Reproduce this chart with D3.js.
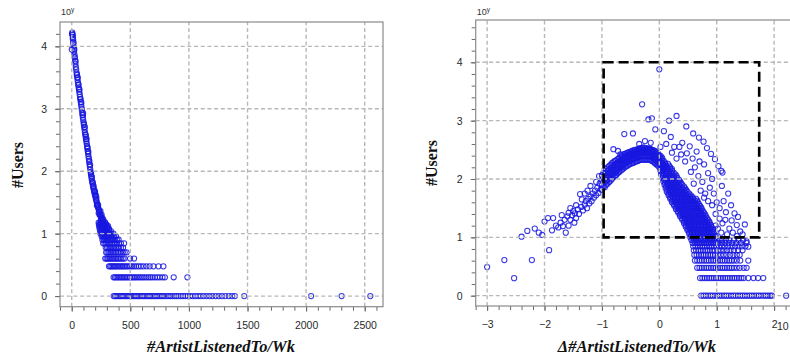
<!DOCTYPE html>
<html><head><meta charset="utf-8">
<script src="https://cdn.jsdelivr.net/npm/d3@7/dist/d3.min.js"></script>
<style>
body{margin:0;background:#fff;}
svg{display:block;}
</style></head><body>
<svg id="c" width="790" height="361"></svg>
<script>
// ---------- DATA ----------
const yTickLabels = [0, 1, 2, 3, 4];
const leftXTickLabels = [0, 500, 1000, 1500, 2000, 2500];
const rightXTickLabels = [-3, -2, -1, 0, 1, 2];
const leftXLabel = "#ArtistListenedTo/Wk";
const rightXLabel = "\u0394#ArtistListenedTo/Wk";
const yLabel = "#Users";

// left: main curve [#artists, log10 users]
const leftCurve = [[1,3.95],[3,4.2],[5,4.22],[6,4.19],[8,4.18],[10,4.15],[12,4.1],[14,4.05],[16,4.0],[18,3.96],[20,3.92],[23,3.87],[26,3.82],[29,3.77],[32,3.72],[35,3.67],[38,3.63],[41,3.58],[44,3.54],[47,3.5],[50,3.46],[53,3.42],[56,3.38],[59,3.34],[62,3.31],[65,3.27],[68,3.23],[71,3.19],[74,3.15],[77,3.11],[80,3.07],[83,3.03],[86,2.99],[89,2.94],[92,2.9],[95,2.86],[98,2.82],[101,2.78],[104,2.74],[107,2.7],[110,2.66],[113,2.62],[116,2.59],[119,2.55],[122,2.51],[125,2.48],[128,2.44],[131,2.4],[134,2.36],[137,2.32],[140,2.28],[143,2.24],[146,2.2],[149,2.15],[152,2.11],[155,2.07],[158,2.03],[161,1.99],[164,1.95],[167,1.92],[170,1.88],[173,1.85],[176,1.82],[179,1.79],[182,1.76],[185,1.73],[188,1.71],[191,1.68],[194,1.66],[197,1.63],[200,1.61],[203,1.59],[206,1.56],[209,1.54],[212,1.52],[215,1.49],[218,1.47],[221,1.45],[224,1.43],[227,1.41],[230,1.39],[233,1.37],[236,1.35],[239,1.33],[242,1.31],[245,1.3],[248,1.28],[251,1.26],[254,1.24],[257,1.22],[260,1.21],[264,1.19],[268,1.17],[272,1.15],[276,1.13],[280,1.11],
[15,4.06],[25,3.83],[45,3.55],[58,3.39],[75,3.16],[95,2.9],[105,2.76],[120,2.58],[135,2.38],[150,2.17],[165,1.97],[180,1.82],[195,1.69],[205,1.62],[215,1.45],[225,1.46],[238,1.30],[245,1.36],[250,1.22],[262,1.25],[270,1.22],[285,1.18],[290,1.14],[300,1.1],[310,1.12],[318,1.07],[295,1.05],[305,1.03],[230,1.33],[255,1.30],[275,1.08],[262,1.12],[250,1.17],
[9,4.12],[22,3.95],[33,3.76],[52,3.5],[66,3.31],[82,3.1],[97,2.93],[112,2.71],[127,2.52],[142,2.31],[157,2.1],[172,1.91],[187,1.76],[199,1.67],[210,1.58]];

// left: rows of small user counts (log10 n) and their x values
const leftRowY = [0, 0.301, 0.477, 0.602, 0.699, 0.778, 0.845, 0.903, 0.954, 1.0, 1.041, 1.079, 1.114, 1.146, 1.176];
const leftRowX = [
[358,370,382,395,408,420,433,445,458,470,483,496,508,520,533,546,560,572,585,600,612,626,640,655,668,682,697,712,727,742,757,772,788,805,822,840,857,875,893,910,930,950,970,990,1010,1032,1055,1078,1100,1125,1150,1175,1200,1228,1255,1282,1310,1340,1368,1392,1472,2042,2303,2548],
[357,368,380,392,405,418,430,443,456,470,483,497,512,526,541,556,572,588,604,620,637,655,672,690,710,730,752,775,795,870,987],
[318,328,339,350,361,372,383,395,407,419,431,443,456,470,485,500,515,532,550,570,590,612,638,665,697,740,782],
[286,297,308,320,331,343,355,367,380,393,406,420,435,450,498,532],
[294,305,316,328,340,352,365,378,392,406,420,436,452,468],
[290,302,314,326,338,350,363,376,390,404,420,438],
[268,280,292,304,316,329,342,356,370,386,402,420,447],
[262,274,286,298,311,324,338,352,368,385,400],
[256,268,280,292,305,318,332,347,362,378],
[246,258,270,283,296,310,325,340,356],
[242,254,266,279,292,306,320,334],
[238,250,262,275,288,302,316],
[235,247,259,272,286,300],
[232,244,256,269,283,297],
[230,242,254,267,281]
];

// right: sparse rising tail
const rightTail = [[-3.0,0.49],[-2.70,0.61],[-2.53,0.30],[-2.22,0.61],[-1.92,0.78],[-2.40,1.01],[-2.30,1.11],[-2.17,1.15],[-2.10,1.08],[-2.04,1.04],[-2.00,1.27],[-1.94,1.33],[-1.85,1.33],[-1.87,1.12],[-1.80,1.20],[-1.76,1.17],[-1.72,1.25],[-1.68,1.19],[-1.63,1.08],[-1.65,1.30],[-1.60,1.36],[-1.58,1.42],[-1.55,1.30],[-1.52,1.38],[-1.50,1.45],[-1.47,1.41],[-1.45,1.33],[-1.42,1.48],[-1.40,1.40],[-1.38,1.74],[-1.36,1.52],[-1.33,1.46],[-1.30,1.56],[-1.28,1.62],[-1.26,1.50],[-1.24,1.66],[-1.22,1.58],[-1.20,1.70],[-1.18,1.62],[-1.16,1.75],[-1.14,1.68],[-1.12,1.80],[-1.10,1.72],[-1.08,1.85],[-1.06,1.76],[-1.04,1.92],[-1.02,1.82],[-1.30,1.75],[-1.25,1.80],[-1.35,1.65],[-1.10,1.95],[-1.05,2.05],[-1.20,1.88],[-1.45,1.55],[-1.55,1.50],[-1.70,1.38],[-1.58,1.20],[-1.48,1.25]];

// right: dense arch, by column
const archX = [-1.00,-0.975,-0.95,-0.925,-0.90,-0.875,-0.85,-0.825,-0.80,-0.775,-0.75,-0.725,-0.70,-0.675,-0.65,-0.625,-0.60,-0.575,-0.55,-0.525,-0.50,-0.475,-0.45,-0.425,-0.40,-0.375,-0.35,-0.325,-0.30,-0.275,-0.25,-0.225,-0.20,-0.175,-0.15,-0.125,-0.10,-0.075,-0.05,-0.025,0.00,0.025,0.05,0.075,0.10];
const archY = [
[1.82,1.90,1.98,2.06],
[1.86,1.94,2.02,2.10],
[1.86,1.94,2.02,2.10],
[1.90,1.97,2.04,2.11,2.17],
[1.92,1.99,2.06,2.14,2.20],
[1.95,2.02,2.09,2.16,2.22],
[1.97,2.04,2.11,2.18,2.24],
[2.00,2.07,2.13,2.20,2.27],
[2.03,2.09,2.15,2.22,2.29],
[2.05,2.11,2.17,2.24,2.31],
[2.07,2.13,2.19,2.26,2.32],
[2.10,2.16,2.22,2.28,2.34],
[2.12,2.18,2.24,2.30,2.36],
[2.14,2.20,2.26,2.32,2.38],
[2.16,2.22,2.28,2.34,2.40],
[2.18,2.24,2.30,2.36,2.42],
[2.20,2.26,2.32,2.38,2.43],
[2.22,2.28,2.34,2.40,2.44],
[2.23,2.29,2.35,2.41,2.45],
[2.25,2.31,2.37,2.42,2.46],
[2.26,2.32,2.38,2.43,2.47],
[2.27,2.33,2.39,2.44,2.48],
[2.28,2.34,2.40,2.45,2.49],
[2.29,2.35,2.41,2.46,2.50],
[2.30,2.36,2.42,2.47,2.50],
[2.31,2.37,2.43,2.48,2.51],
[2.32,2.38,2.44,2.49,2.52],
[2.33,2.39,2.45,2.50,2.53],
[2.33,2.39,2.45,2.50,2.53],
[2.33,2.39,2.45,2.50,2.54],
[2.33,2.39,2.45,2.50,2.53],
[2.33,2.39,2.45,2.50,2.53],
[2.33,2.39,2.45,2.50,2.52],
[2.33,2.39,2.45,2.50,2.52],
[2.32,2.38,2.44,2.49,2.51],
[2.31,2.37,2.43,2.48,2.50],
[2.29,2.35,2.41,2.46,2.49],
[2.27,2.33,2.39,2.44,2.48],
[2.25,2.31,2.37,2.42,2.46],
[2.23,2.29,2.35,2.40,2.44],
[2.20,2.26,2.32,2.37,2.41],
[2.18,2.24,2.30,2.35,2.39],
[2.15,2.21,2.27,2.32,2.36],
[2.19,2.25,2.31],
[2.22,2.28]
];

// right: dense descending region, by row
const descY = [2.26,2.23,2.20,2.17,2.14,2.11,2.08,2.05,2.02,1.99,1.96,1.93,1.90,1.87,1.84,1.81,1.78,1.75,1.72,1.69,1.66,1.63,1.60,1.57,1.54,1.51,1.48,1.45,1.42,1.39,1.36,1.33,1.30,1.27,1.24,1.21,1.18,1.15,1.12,1.09,1.06,1.03,1.00];
const descX = [
[0.05,0.10,0.15],
[0.07,0.12,0.17],
[0.04,0.09,0.14,0.19],
[0.04,0.09,0.14,0.19,0.22],
[0.02,0.07,0.12,0.17,0.22],
[0.05,0.10,0.15,0.20,0.25],
[0.03,0.08,0.13,0.18,0.23,0.28],
[0.06,0.11,0.16,0.21,0.26,0.30],
[0.05,0.10,0.15,0.20,0.25,0.31],
[0.08,0.13,0.18,0.23,0.28,0.34],
[0.07,0.12,0.17,0.22,0.27,0.32,0.36],
[0.10,0.15,0.20,0.25,0.30,0.35,0.38],
[0.09,0.14,0.19,0.24,0.29,0.34,0.40],
[0.12,0.17,0.22,0.27,0.32,0.37,0.43],
[0.11,0.16,0.21,0.26,0.31,0.36,0.41,0.45],
[0.14,0.19,0.24,0.29,0.34,0.39,0.44,0.47],
[0.13,0.18,0.23,0.28,0.33,0.38,0.43,0.49],
[0.16,0.21,0.26,0.31,0.36,0.41,0.46,0.52],
[0.16,0.21,0.26,0.31,0.36,0.41,0.46,0.51,0.55],
[0.19,0.24,0.29,0.34,0.39,0.44,0.49,0.54,0.58],
[0.19,0.24,0.29,0.34,0.39,0.44,0.49,0.54,0.59,0.64],
[0.22,0.27,0.32,0.37,0.42,0.47,0.52,0.57,0.62,0.66],
[0.22,0.27,0.32,0.37,0.42,0.47,0.52,0.57,0.62,0.67],
[0.25,0.30,0.35,0.40,0.45,0.50,0.55,0.60,0.65,0.69],
[0.26,0.31,0.36,0.41,0.46,0.51,0.56,0.61,0.66,0.71],
[0.29,0.34,0.39,0.44,0.49,0.54,0.59,0.64,0.69,0.73],
[0.29,0.34,0.39,0.44,0.49,0.54,0.59,0.64,0.69,0.74],
[0.32,0.37,0.42,0.47,0.52,0.57,0.62,0.67,0.72,0.76],
[0.33,0.38,0.43,0.48,0.53,0.58,0.63,0.68,0.73,0.78],
[0.36,0.41,0.46,0.51,0.56,0.61,0.66,0.71,0.76,0.80],
[0.36,0.41,0.46,0.51,0.56,0.61,0.66,0.71,0.76,0.81],
[0.39,0.44,0.49,0.54,0.59,0.64,0.69,0.74,0.79,0.83],
[0.40,0.45,0.50,0.55,0.60,0.65,0.70,0.75,0.80,0.85],
[0.43,0.48,0.53,0.58,0.63,0.68,0.73,0.78,0.83,0.87],
[0.43,0.48,0.53,0.58,0.63,0.68,0.73,0.78,0.83,0.88],
[0.46,0.51,0.56,0.61,0.66,0.71,0.76,0.81,0.86,0.90],
[0.46,0.51,0.56,0.61,0.66,0.71,0.76,0.81,0.86,0.91],
[0.49,0.54,0.59,0.64,0.69,0.74,0.79,0.84,0.89,0.93],
[0.49,0.54,0.59,0.64,0.69,0.74,0.79,0.84,0.89,0.94],
[0.52,0.57,0.62,0.67,0.72,0.77,0.82,0.87,0.92,0.95],
[0.52,0.57,0.62,0.67,0.72,0.77,0.82,0.87,0.92,0.96],
[0.55,0.60,0.65,0.70,0.75,0.80,0.85,0.90,0.95,0.98],
[0.54,0.59,0.64,0.69,0.74,0.79,0.84,0.89,0.94,0.98]
];

// right: rows of small user counts (log10 n)
const rightRowY = [0, 0.301, 0.477, 0.602, 0.699, 0.778, 0.845, 0.903, 0.954];
const rightRowX = [
[0.73,0.77,0.81,0.85,0.89,0.93,0.97,1.01,1.05,1.09,1.13,1.17,1.21,1.25,1.29,1.33,1.37,1.41,1.45,1.49,1.53,1.57,1.61,1.65,1.69,1.73,1.77,1.81,1.85,1.89,1.93,1.96,2.21],
[0.71,0.75,0.79,0.83,0.87,0.91,0.95,0.99,1.03,1.07,1.11,1.15,1.19,1.23,1.27,1.31,1.35,1.39,1.43,1.47,1.55,1.64,1.72,1.81],
[0.66,0.70,0.74,0.78,0.82,0.86,0.90,0.94,0.98,1.02,1.06,1.10,1.14,1.18,1.22,1.26,1.30,1.35,1.40,1.47,1.52],
[0.62,0.66,0.70,0.74,0.78,0.82,0.86,0.90,0.94,0.98,1.02,1.06,1.10,1.14,1.18,1.22,1.26,1.30,1.35,1.41,1.55],
[0.61,0.65,0.69,0.73,0.77,0.81,0.85,0.89,0.93,0.97,1.02,1.07,1.12,1.17,1.23,1.29,1.35,1.40],
[0.60,0.64,0.68,0.72,0.76,0.80,0.84,0.88,0.92,0.96,1.02,1.07,1.12,1.18,1.24,1.30,1.37,1.45],
[0.59,0.63,0.67,0.71,0.75,0.79,0.83,0.87,0.91,0.95,0.99,1.04,1.09,1.14,1.20,1.26,1.32,1.38,1.44,1.50],
[0.58,0.62,0.66,0.70,0.74,0.78,0.82,0.86,0.90,0.94,0.98,1.03,1.09,1.15,1.21,1.27,1.34,1.42,1.52],
[0.56,0.60,0.64,0.68,0.72,0.76,0.80,0.84,0.88,0.92,0.96,1.00,1.05,1.10,1.16,1.22,1.30,1.38,1.46]
];

// right: scattered points above / right of the dense region
const rightScatter = [[0.00,3.88],[-0.30,3.28],[-0.19,3.02],[-0.13,3.04],[0.30,3.08],[0.17,3.00],[0.47,2.90],[0.59,2.78],[0.69,2.71],[0.77,2.64],[0.83,2.53],[0.90,2.43],[0.97,2.34],[1.08,2.14],[1.10,2.11],[1.03,2.22],[-0.46,2.78],[-0.61,2.77],[-0.07,2.85],[0.08,2.82],[0.20,2.72],[0.35,2.55],[0.40,2.62],[0.53,2.56],[0.65,2.47],[0.48,2.44],[0.58,2.35],[0.70,2.30],[0.78,2.25],[0.62,2.20],[0.45,2.30],[0.38,2.42],[0.26,2.55],[0.12,2.60],[-0.80,2.51],[-0.72,2.48],[-0.68,2.42],[-0.25,2.65],[-0.15,2.62],[-0.35,2.60],[0.02,2.55],[0.22,2.45],[0.30,2.35],[0.55,2.12],[0.68,2.05],[0.85,2.10],[0.92,2.00],[0.75,1.95],[0.88,1.85],[0.60,1.92],[0.95,1.75],[1.09,1.88],[1.20,1.75],[1.25,1.55],[1.16,1.43],[1.31,1.41],[1.37,1.35],[1.26,1.29],[1.49,1.22],[1.35,1.21],[1.10,1.24],[1.22,1.15],[1.41,1.10],[1.45,1.05],[1.52,0.93],[1.55,0.84],[1.00,1.60],[1.05,1.50],[1.12,1.62],[0.98,1.40],[1.05,1.32],[1.15,1.30],[0.80,1.75],[0.72,1.80],[1.02,1.15],[1.08,1.08],[1.18,1.05],[1.28,1.08],[1.35,1.02],[0.98,1.20],[0.92,1.55],[0.85,1.62],[0.78,1.68]];

// right: highlighted region (dashed box)
const boxX = [-0.97, 1.74];
const boxY = [1, 4];

// ---------- DRAW ----------
const svg = d3.select("#c");
const POINT = "#1818e0";
const GRID = "#b8b8b8";
const FRAME = "#8a8a8a";

function panel(o) {
  const x = d3.scaleLinear().domain(o.xDomain).range(o.xRange);
  const y = d3.scaleLinear().domain(o.yDomain).range(o.yRange);
  const g = svg.append("g");
  const clipId = "clip" + o.id;
  svg.append("clipPath").attr("id", clipId).append("rect")
    .attr("x", o.xRange[0]).attr("y", o.yRange[1])
    .attr("width", o.xRange[1] - o.xRange[0]).attr("height", o.yRange[0] - o.yRange[1]);

  // points
  const pts = g.append("g").attr("clip-path", `url(#${clipId})`);
  pts.selectAll("circle").data(o.points).join("circle")
    .attr("cx", d => x(d[0])).attr("cy", d => y(d[1])).attr("r", 2.6)
    .attr("fill", "none").attr("stroke", POINT).attr("stroke-width", 1.05).attr("stroke-opacity", 0.85);

  // grid (on top of points)
  const grid = g.append("g").attr("stroke", GRID).attr("stroke-width", 1.4).attr("stroke-dasharray", "4,2.7");
  grid.selectAll("line.v").data(o.xTicks).join("line").attr("class", "v")
    .attr("x1", d => x(d)).attr("x2", d => x(d)).attr("y1", o.yRange[0]).attr("y2", o.yRange[1]);
  grid.selectAll("line.h").data(o.yTicks).join("line").attr("class", "h")
    .attr("y1", d => y(d)).attr("y2", d => y(d)).attr("x1", o.xRange[0]).attr("x2", o.xRange[1]);

  // axes
  const styleAxis = sel => {
    sel.select(".domain").remove();
    sel.selectAll(".tick line").attr("stroke", "#6a6a6a");
    sel.selectAll(".tick text").attr("fill", "#2a2a2a")
      .style("font-family", "'Liberation Sans', Arial, sans-serif").style("font-size", "10.5px");
  };
  g.append("g").attr("transform", `translate(0,${o.yRange[0]})`)
    .call(d3.axisBottom(x).tickValues(o.xMinor).tickSize(4).tickFormat("")).call(styleAxis);
  g.append("g").attr("transform", `translate(0,${o.yRange[0]})`)
    .call(d3.axisBottom(x).tickValues(o.xTicks).tickSize(5).tickPadding(10).tickFormat(d3.format("d"))).call(styleAxis);
  g.append("g").attr("transform", `translate(${o.xRange[0]},0)`)
    .call(d3.axisLeft(y).tickValues(o.yMinor).tickSize(4).tickFormat("")).call(styleAxis);
  g.append("g").attr("transform", `translate(${o.xRange[0]},0)`)
    .call(d3.axisLeft(y).tickValues(o.yTicks).tickSize(5).tickPadding(8).tickFormat(d3.format("d"))).call(styleAxis);

  // frame
  g.append("rect").attr("x", o.xRange[0]).attr("y", o.yRange[1])
    .attr("width", o.xRange[1] - o.xRange[0]).attr("height", o.yRange[0] - o.yRange[1])
    .attr("fill", "none").attr("stroke", FRAME).attr("stroke-width", 1.2);

  // 10^y
  const ex = g.append("text").attr("x", o.xRange[0] + 1).attr("y", 15)
    .style("font-family", "'Liberation Sans', Arial, sans-serif").style("font-size", "9px").attr("fill", "#333");
  ex.append("tspan").text("10");
  ex.append("tspan").attr("dy", -3.5).style("font-size", "6.5px").text("y");

  // labels
  g.append("text").attr("transform", `translate(${o.yLabelX},${o.yLabelY}) rotate(-90)`)
    .attr("text-anchor", "middle")
    .style("font-family", "'Liberation Serif', 'Times New Roman', serif").style("font-weight", "bold").style("font-size", "16px")
    .attr("fill", "#111").text(yLabel);
  g.append("text").attr("x", o.xLabelX).attr("y", 352).attr("text-anchor", "middle")
    .style("font-family", "'Liberation Serif', 'Times New Roman', serif").style("font-weight", "bold").style("font-style", "italic").style("font-size", "16.5px")
    .attr("fill", "#111").text(o.xLabel);
  return {x, y, g};
}

// left panel points
const leftPoints = leftCurve.slice();
leftRowY.forEach((yv, i) => leftRowX[i].forEach(xv => leftPoints.push([xv, yv])));

panel({
  id: "L", xDomain: [-100, 2656], xRange: [60, 383], yDomain: [-0.17, 4.39], yRange: [306.7, 22],
  xTicks: leftXTickLabels, yTicks: yTickLabels,
  xMinor: d3.range(-100, 2601, 100), yMinor: d3.range(0, 4.21, 0.2),
  points: leftPoints, yLabelX: 22.5, yLabelY: 165, xLabelX: 221, xLabel: leftXLabel
});

// right panel points
const rightPoints = rightTail.slice();
archX.forEach((xv, i) => archY[i].forEach(yv => rightPoints.push([xv, yv])));
descY.forEach((yv, i) => descX[i].forEach(xv => rightPoints.push([xv, yv])));
rightRowY.forEach((yv, i) => rightRowX[i].forEach(xv => rightPoints.push([xv, yv])));
rightScatter.forEach(p => rightPoints.push(p));

const R = panel({
  id: "R", xDomain: [-3.199, 2.451], xRange: [475.7, 800], yDomain: [-0.177, 4.725], yRange: [306, 20],
  xTicks: rightXTickLabels, yTicks: yTickLabels,
  xMinor: d3.range(-3.2, 2.41, 0.2), yMinor: d3.range(0, 4.61, 0.2),
  points: rightPoints, yLabelX: 437, yLabelY: 163, xLabelX: 637, xLabel: rightXLabel
});

// dashed highlight box
R.g.append("rect")
  .attr("x", R.x(boxX[0])).attr("y", R.y(boxY[1]))
  .attr("width", R.x(boxX[1]) - R.x(boxX[0])).attr("height", R.y(boxY[0]) - R.y(boxY[1]))
  .attr("fill", "none").attr("stroke", "#000").attr("stroke-width", 2.6).attr("stroke-dasharray", "10,5");

// x-exponent label at right edge
R.g.append("text").attr("x", 777).attr("y", 330)
  .style("font-family", "'Liberation Sans', Arial, sans-serif").style("font-size", "10.5px").attr("fill", "#2a2a2a").text("10");
</script>
</body></html>
